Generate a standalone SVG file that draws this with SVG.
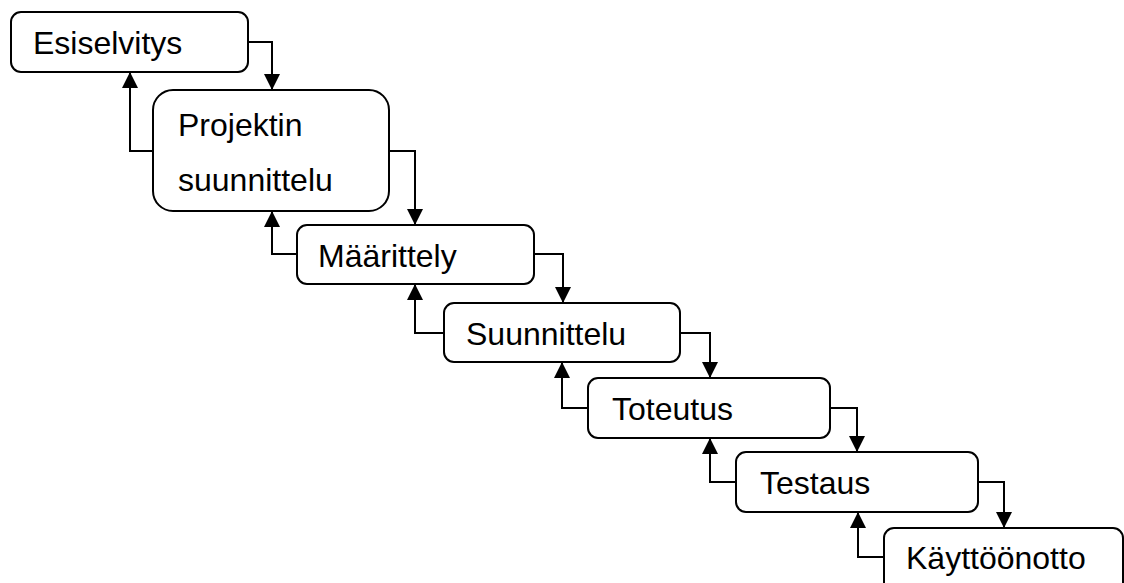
<svg xmlns="http://www.w3.org/2000/svg" width="1124" height="583" viewBox="0 0 1124 583">
<defs>
<marker id="ah" viewBox="0 0 14 16" refX="16" refY="8" markerWidth="14" markerHeight="16" markerUnits="userSpaceOnUse" orient="auto">
<path d="M0,0 L16,8 L0,16 Z" fill="#000"/>
</marker>
<style>
.box{fill:#fff;stroke:#000;stroke-width:2}
.lbl{font-family:"Liberation Sans",Arial,sans-serif;font-size:32px;fill:#000}
.con{fill:none;stroke:#000;stroke-width:2;marker-end:url(#ah)}
</style>
</defs>
<rect width="1124" height="583" fill="#fff"/>
<g id="connectors">
<path class="con" d="M248,42 H272 V90"/>
<path class="con" d="M153,151 H130 V72"/>
<path class="con" d="M389,151 H415 V225"/>
<path class="con" d="M297,254 H272 V211"/>
<path class="con" d="M534,254 H563 V303"/>
<path class="con" d="M444,333 H415 V284"/>
<path class="con" d="M680,333 H710 V378"/>
<path class="con" d="M588,408 H562 V362"/>
<path class="con" d="M830,408 H857 V452"/>
<path class="con" d="M736,482 H710 V438"/>
<path class="con" d="M978,482 H1004 V528"/>
<path class="con" d="M884,557 H858 V512"/>
</g>
<g id="esiselvitys">
<rect class="box" x="11" y="12" width="237" height="60" rx="10"/>
<text class="lbl" x="33" y="54">Esiselvitys</text>
</g>
<g id="projektin-suunnittelu">
<rect class="box" x="153" y="90" width="236" height="121" rx="20"/>
<text class="lbl" x="178" y="136">Projektin</text>
<text class="lbl" x="178" y="191">suunnittelu</text>
</g>
<g id="maarittely">
<rect class="box" x="297" y="225" width="237" height="59" rx="10"/>
<text class="lbl" x="318" y="267">Määrittely</text>
</g>
<g id="suunnittelu">
<rect class="box" x="444" y="303" width="236" height="59" rx="10"/>
<text class="lbl" x="466" y="345">Suunnittelu</text>
</g>
<g id="toteutus">
<rect class="box" x="588" y="378" width="242" height="60" rx="10"/>
<text class="lbl" x="612" y="420">Toteutus</text>
</g>
<g id="testaus">
<rect class="box" x="736" y="452" width="242" height="60" rx="10"/>
<text class="lbl" x="760" y="494">Testaus</text>
</g>
<g id="kayttoonotto">
<rect class="box" x="884" y="528" width="239" height="80" rx="10"/>
<text class="lbl" x="906" y="569">Käyttöönotto</text>
</g>
</svg>
